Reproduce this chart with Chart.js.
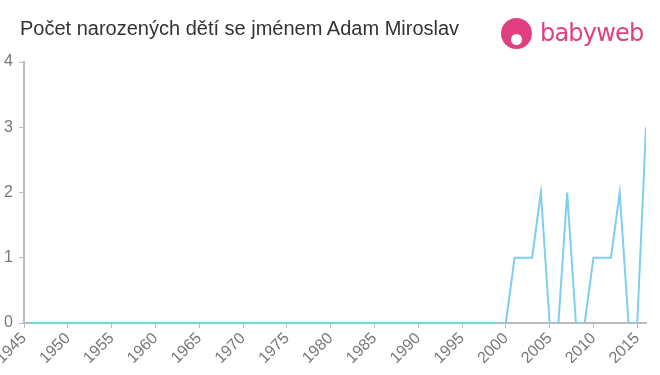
<!DOCTYPE html>
<html>
<head>
<meta charset="utf-8">
<script src="https://cdn.jsdelivr.net/npm/chart.js@4"></script>
<style>
    body { margin: 0; background: #fff; font-family: "Liberation Sans", Arial, sans-serif; }
    #wrap { position: relative; width: 660px; height: 375px; }
    #title { position: absolute; left: 20px; top: 17px; font-size: 20px; color: #333; white-space: nowrap; }
    #logo { position: absolute; left: 501px; top: 16px; height: 34px; display: flex; align-items: center; }
    #logo .dot { width: 31px; height: 31px; border-radius: 50%; background: #e0407f; position: relative; }
    #logo .dot::after { content: ""; position: absolute; left: 10px; top: 16px; width: 11px; height: 11px; border-radius: 50%; background: #fff; }
    #logo .txt { margin-left: 8px; font-size: 24px; color: #e0407f; font-family: "DejaVu Sans", sans-serif; font-weight: normal; letter-spacing: -0.8px; }
    canvas { position: absolute; left: 0; top: 0; }
</style>
</head>
<body>
<div id="wrap">
    <canvas id="myChart" width="660" height="375"></canvas>
    <div id="title">Počet narozených dětí se jménem Adam Miroslav</div>
    <div id="logo"><div class="dot"></div><div class="txt">babyweb</div></div>
</div>
<script>
    const years = [1945, 1946, 1947, 1948, 1949, 1950, 1951, 1952, 1953, 1954, 1955, 1956, 1957, 1958, 1959,
        1960, 1961, 1962, 1963, 1964, 1965, 1966, 1967, 1968, 1969, 1970, 1971, 1972, 1973, 1974,
        1975, 1976, 1977, 1978, 1979, 1980, 1981, 1982, 1983, 1984, 1985, 1986, 1987, 1988, 1989,
        1990, 1991, 1992, 1993, 1994, 1995, 1996, 1997, 1998, 1999, 2000, 2001, 2002, 2003, 2004,
        2005, 2006, 2007, 2008, 2009, 2010, 2011, 2012, 2013, 2014, 2015, 2016];
    const counts = [0, 0, 0, 0, 0, 0, 0, 0, 0, 0, 0, 0, 0, 0, 0,
        0, 0, 0, 0, 0, 0, 0, 0, 0, 0, 0, 0, 0, 0, 0,
        0, 0, 0, 0, 0, 0, 0, 0, 0, 0, 0, 0, 0, 0, 0,
        0, 0, 0, 0, 0, 0, 0, 0, 0, 0, 0, 1, 1, 1, 2,
        0, 0, 2, 0, 0, 1, 1, 1, 2, 0, 0, 3];
    const yTicks = [0, 1, 2, 3, 4];

    var points = years.map(function (y, i) { return { x: y, y: counts[i] }; });

    var ctx = document.getElementById("myChart");

    new Chart(ctx, {
        type: "line",
        data: {
            datasets: [{
                data: points,
                borderColor: "#7dcfed",
                borderWidth: 2,
                pointRadius: 0,
                tension: 0,
                fill: false
            }]
        },
        options: {
            responsive: false,
            animation: false,
            layout: { padding: { top: 62, right: 14, left: 0, bottom: 0 } },
            plugins: {
                legend: { display: false },
                tooltip: { enabled: false }
            },
            scales: {
                x: {
                    type: "linear",
                    min: 1945,
                    max: 2016,
                    afterFit: function (scale) {
                        scale.height = 52;
                        scale.paddingLeft = 0;
                        scale.paddingRight = 0;
                    },
                    afterBuildTicks: function (scale) {
                        var t = [];
                        for (var v = 1945; v <= 2015; v += 5) t.push({ value: v });
                        scale.ticks = t;
                    },
                    grid: { drawOnChartArea: false, color: "#bbb", tickLength: 5 },
                    border: { color: "#bbb", width: 2 },
                    ticks: {
                        color: "#777",
                        font: { size: 16, family: "Liberation Sans" },
                        minRotation: 45,
                        maxRotation: 45,
                        padding: 1,
                        callback: function (v) { return String(v); }
                    }
                },
                y: {
                    min: 0,
                    max: 4,
                    afterFit: function (scale) {
                        scale.width = 24;
                        scale.paddingTop = 0;
                        scale.paddingBottom = 0;
                    },
                    afterBuildTicks: function (scale) {
                        scale.ticks = yTicks.map(function (v) { return { value: v }; });
                    },
                    grid: { drawOnChartArea: false, color: "#bbb", tickLength: 5 },
                    border: { color: "#bbb", width: 2 },
                    ticks: {
                        color: "#777",
                        font: { size: 16, family: "Liberation Sans" },
                        padding: 6
                    }
                }
            }
        }
    })
</script>
</body>
</html>
